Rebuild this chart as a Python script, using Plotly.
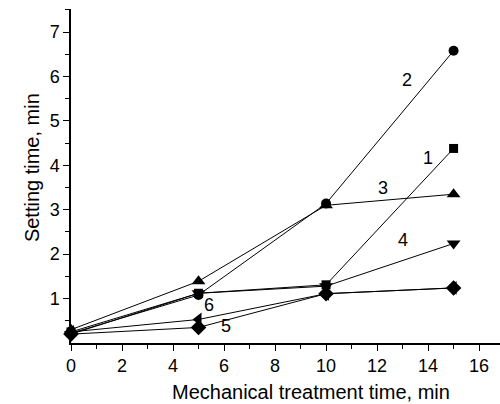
import plotly.graph_objects as go

x_min = [0, 5, 10, 15]
s1 = [0.25, 1.12, 1.31, 4.38]   # square
s2 = [0.22, 1.08, 3.14, 6.58]   # circle
s3 = [0.30, 1.39, 3.10, 3.35]   # triangle-up
s4 = [0.20, 1.12, 1.28, 2.24]   # triangle-down
s5 = [0.20, 0.35, 1.11, 1.24]   # diamond
s6 = [0.25, 0.53, 1.11, 1.24]   # triangle-left

series = [
    (s1, "square", 9),
    (s2, "circle", 10),
    (s3, "triangle-up", 12),
    (s4, "triangle-down", 12),
    (s5, "diamond", 12),
    (s6, "triangle-left", 12),
]

label_text = ["2", "1", "3", "4", "6", "5"]
label_x = [13.18, 14.0, 12.24, 13.02, 5.41, 6.08]
label_y = [5.93, 4.17, 3.50, 2.33, 0.86, 0.39]

fig = go.Figure()
for vals, sym, sz in series:
    fig.add_trace(go.Scatter(
        x=x_min, y=vals, mode="lines+markers",
        line=dict(color="black", width=1),
        marker=dict(symbol=sym, size=sz, color="black"),
        showlegend=False, cliponaxis=False,
    ))

FONT = "Liberation Sans, Arial, sans-serif"
for t, lx, ly in zip(label_text, label_x, label_y):
    fig.add_annotation(x=lx, y=ly, text=t, showarrow=False,
                       font=dict(family=FONT, size=18, color="black"))

fig.add_annotation(xref="paper", yref="paper", x=0.559, y=-0.148,
                   text="Mechanical treatment time, min", showarrow=False,
                   xanchor="center", yanchor="middle",
                   font=dict(family=FONT, size=20, color="black"))
fig.add_annotation(xref="paper", yref="paper", x=-0.091, y=0.5265,
                   text="Setting time, min", showarrow=False, textangle=-90,
                   xanchor="center", yanchor="middle",
                   font=dict(family=FONT, size=20, color="black"))

fig.update_xaxes(
    range=[0, 16.82], tickvals=[0, 2, 4, 6, 8, 10, 12, 14, 16],
    ticks="outside", ticklen=6, tickwidth=1, tickcolor="black",
    minor=dict(tickvals=[1, 3, 5, 7, 9, 11, 13, 15], ticks="outside", ticklen=4,
               tickcolor="black", tickwidth=1),
    showline=True, linecolor="black", linewidth=1.5, showgrid=False, zeroline=False,
    tickfont=dict(family=FONT, size=18, color="black"),
)
fig.update_yaxes(
    range=[0, 7.52], tickvals=[1, 2, 3, 4, 5, 6, 7],
    ticks="outside", ticklen=6, tickwidth=1, tickcolor="black",
    minor=dict(tickvals=[0.5, 1.5, 2.5, 3.5, 4.5, 5.5, 6.5, 7.5], ticks="outside",
               ticklen=4, tickcolor="black", tickwidth=1),
    showline=True, linecolor="black", linewidth=1.5, showgrid=False, zeroline=False,
    tickfont=dict(family=FONT, size=18, color="black"),
)
fig.update_layout(
    width=500, height=404,
    margin=dict(l=71, r=0, t=9, b=61),
    plot_bgcolor="white", paper_bgcolor="white",
)
fig.write_html("out.html", config={"displayModeBar": False},
               post_script="document.body.style.margin='0';")
